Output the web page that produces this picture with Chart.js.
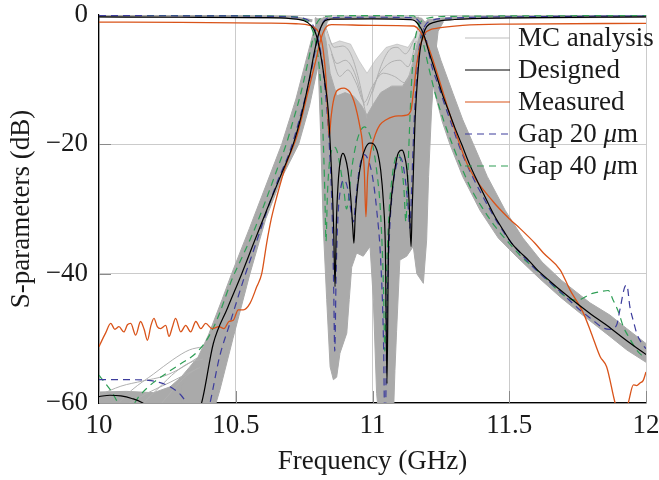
<!DOCTYPE html>
<html lang="en">
<head>
<meta charset="UTF-8">
<title>S-parameters</title>
<script src="https://cdn.jsdelivr.net/npm/chart.js@4.4.1/dist/chart.umd.min.js"></script>
<style>
  html, body { margin: 0; padding: 0; background: #ffffff; }
  #wrap { width: 659px; height: 480px; }
</style>
</head>
<body>
<div id="wrap"><canvas id="sparams" width="659" height="480"></canvas></div>
<script>
// values, [frequency (GHz), level (dB)]
const xTicks = [10, 10.5, 11, 11.5, 12];
const yTicks = [0, -20, -40, -60];
const seriesNames = ['MC analysis', 'Designed', 'Measured', 'Gap 20 μm', 'Gap 40 μm'];

const designedS11 = [[10.0,-0.3],[10.3,-0.35],[10.6,-0.4],[10.7,-0.55],[10.75,-0.9],[10.775,-1.6],[10.79,-2.6],[10.8,-4],[10.814,-7],[10.826,-10.5],[10.838,-14.7],[10.851,-25],[10.858,-33],[10.863,-42],[10.868,-32],[10.876,-25],[10.884,-22.2],[10.892,-21.4],[10.9,-22],[10.91,-24],[10.92,-28],[10.928,-33],[10.932,-35.3],[10.937,-31],[10.947,-26],[10.96,-22.5],[10.975,-20.5],[10.99,-19.8],[10.998,-19.8],[11.01,-20.3],[11.02,-21.5],[11.03,-24],[11.04,-29],[11.047,-36],[11.053,-57],[11.058,-37],[11.066,-30],[11.078,-25],[11.092,-21.6],[11.1,-21],[11.108,-20.9],[11.116,-21.6],[11.126,-24],[11.134,-29],[11.141,-35.8],[11.145,-30],[11.149,-25],[11.155,-17],[11.161,-12.1],[11.168,-8],[11.174,-5.4],[11.186,-3],[11.198,-1.8],[11.228,-1.1],[11.3,-0.7],[11.5,-0.45],[12.0,-0.3]];
const designedS21 = [[10.0,-59],[10.04,-58.8],[10.08,-58.9],[10.12,-59.3],[10.16,-60],[10.2,-61.5],[10.28,-64],[10.34,-63],[10.375,-60],[10.418,-50.8],[10.47,-45.3],[10.522,-40],[10.57,-34.8],[10.613,-30.2],[10.66,-25.3],[10.71,-20],[10.74,-15.5],[10.771,-9.5],[10.786,-6],[10.8,-3.4],[10.812,-1.8],[10.826,-0.9],[10.85,-0.65],[11.0,-0.6],[11.14,-0.7],[11.155,-0.9],[11.168,-1.5],[11.18,-2.3],[11.192,-3.6],[11.204,-5.4],[11.22,-7.5],[11.235,-9.5],[11.255,-12.2],[11.277,-14.7],[11.3,-17.3],[11.326,-20],[11.355,-23.1],[11.387,-26],[11.418,-28.7],[11.448,-31.2],[11.48,-33.4],[11.509,-35.3],[11.54,-36.7],[11.57,-37.9],[11.6,-39.3],[11.65,-41.2],[11.7,-43],[11.75,-44.7],[11.8,-46.3],[11.85,-47.8],[11.9,-49.4],[11.95,-51],[12.0,-52.5]];

const measuredS11 = [[10.0,-1.1],[10.3,-1.15],[10.6,-1.25],[10.72,-1.35],[10.77,-1.6],[10.795,-2.2],[10.81,-3.3],[10.82,-5.5],[10.83,-10],[10.836,-15],[10.842,-18.8],[10.848,-16],[10.856,-13.5],[10.866,-12],[10.877,-11.5],[10.896,-11.3],[10.91,-11.6],[10.92,-12.1],[10.932,-13.3],[10.944,-15.2],[10.955,-17.5],[10.962,-19.3],[10.97,-24],[10.976,-31.2],[10.982,-25],[10.99,-22],[10.997,-20.4],[11.01,-18.5],[11.027,-17],[11.05,-16.2],[11.076,-15.7],[11.1,-15.6],[11.125,-15.5],[11.135,-15.2],[11.142,-14.5],[11.149,-12.1],[11.155,-10],[11.16,-8],[11.167,-6.3],[11.174,-4.9],[11.183,-3.6],[11.192,-2.8],[11.21,-2.3],[11.228,-2.1],[11.33,-1.6],[11.5,-1.4],[12.0,-1.3]];
const measuredS21 = [[10.0,-51.3],[10.012,-50.2],[10.024,-49.2],[10.043,-47.7],[10.058,-48.6],[10.073,-48.2],[10.091,-49.0],[10.104,-47.9],[10.116,-47.7],[10.134,-49.5],[10.152,-47.4],[10.165,-48.6],[10.177,-50.3],[10.19,-48],[10.201,-46.9],[10.213,-48.2],[10.225,-48.5],[10.244,-48.0],[10.256,-49.7],[10.268,-48.3],[10.28,-46.9],[10.299,-49.0],[10.317,-48.0],[10.335,-49.0],[10.354,-47.4],[10.372,-48.5],[10.39,-47.7],[10.414,-48.5],[10.439,-48.2],[10.457,-48.5],[10.475,-47.4],[10.491,-47.2],[10.509,-45.6],[10.528,-45.6],[10.552,-44.6],[10.577,-42],[10.595,-40],[10.613,-35.3],[10.63,-31.5],[10.65,-28.1],[10.686,-22.9],[10.723,-18.8],[10.76,-12.6],[10.79,-7.5],[10.814,-3.35],[10.832,-1.8],[10.85,-1.5],[11.0,-1.6],[11.15,-1.7],[11.17,-2.3],[11.186,-3.4],[11.204,-4.9],[11.24,-9.5],[11.289,-16.2],[11.35,-23.4],[11.44,-28.8],[11.5,-31.5],[11.539,-33],[11.594,-35.3],[11.625,-36.8],[11.686,-39.4],[11.722,-42.5],[11.771,-46.1],[11.8,-49.2],[11.832,-52.8],[11.856,-54.4],[11.887,-60],[11.91,-63],[11.935,-60],[11.954,-57.2],[11.966,-57.3],[11.978,-56.9],[11.99,-56.5],[12.0,-55.2]];

const gap20S11 = [[10.0,-0.1],[10.5,-0.15],[10.7,-0.3],[10.76,-0.7],[10.785,-1.8],[10.8,-3.5],[10.815,-7],[10.83,-13],[10.842,-20],[10.852,-30],[10.858,-42],[10.862,-52],[10.867,-40],[10.874,-31],[10.885,-26.5],[10.897,-25.5],[10.91,-27],[10.922,-30.5],[10.93,-32],[10.94,-28],[10.953,-23.5],[10.97,-21.6],[10.985,-22.5],[11.0,-25],[11.015,-30],[11.03,-38],[11.04,-50],[11.046,-66],[11.052,-48],[11.062,-34],[11.075,-26.5],[11.09,-22.8],[11.1,-22],[11.11,-22.8],[11.12,-25.5],[11.13,-29.5],[11.137,-33],[11.142,-28],[11.148,-21],[11.155,-14],[11.165,-7.5],[11.175,-3.8],[11.19,-1.8],[11.22,-0.8],[11.3,-0.45],[11.6,-0.25],[12.0,-0.15]];
const gap20S21 = [[10.0,-56.4],[10.1,-56.4],[10.18,-56.5],[10.22,-56.8],[10.26,-57.5],[10.3,-58.8],[10.32,-60],[10.36,-63],[10.4,-61],[10.406,-60],[10.44,-53],[10.48,-47.5],[10.528,-41],[10.57,-35.8],[10.6,-32],[10.65,-26],[10.7,-20.8],[10.74,-15],[10.77,-10],[10.796,-4.4],[10.81,-2],[10.825,-0.8],[10.85,-0.4],[11.0,-0.35],[11.15,-0.4],[11.17,-1],[11.19,-2.5],[11.2,-4.5],[11.216,-7.8],[11.24,-10.8],[11.265,-14],[11.29,-17],[11.32,-20.6],[11.36,-24.5],[11.4,-27.8],[11.45,-31.6],[11.5,-34.8],[11.55,-37.3],[11.6,-39.5],[11.65,-41.4],[11.7,-43.3],[11.75,-45.3],[11.8,-47],[11.844,-48.4],[11.87,-48.6],[11.893,-47.9],[11.905,-45.5],[11.923,-42],[11.93,-41.8],[11.941,-45.1],[11.955,-47.5],[11.966,-49.2],[11.985,-50.8],[12.0,-51.6]];

const gap40S11 = [[10.0,-0.05],[10.5,-0.1],[10.7,-0.25],[10.75,-0.7],[10.775,-1.8],[10.79,-3.8],[10.805,-8],[10.815,-14],[10.822,-22],[10.826,-28],[10.83,-35],[10.835,-28],[10.842,-23],[10.85,-21],[10.86,-20.4],[10.87,-21],[10.88,-23],[10.895,-27],[10.905,-30],[10.912,-28.5],[10.925,-23.5],[10.94,-20],[10.955,-18],[10.97,-17.3],[10.985,-18],[11.0,-20],[11.015,-24],[11.03,-31],[11.04,-42],[11.045,-52],[11.05,-42],[11.06,-31],[11.072,-25],[11.085,-22],[11.095,-21.5],[11.105,-23],[11.115,-27],[11.122,-32],[11.128,-26],[11.135,-18],[11.142,-11],[11.15,-6],[11.16,-2.8],[11.175,-1.2],[11.2,-0.5],[11.3,-0.2],[12.0,-0.1]];
const gap40S21 = [[10.0,-55.7],[10.02,-56.8],[10.05,-58.5],[10.07,-60],[10.1,-61.5],[10.13,-60],[10.146,-59],[10.2,-56.8],[10.25,-55.3],[10.293,-54.1],[10.354,-52.3],[10.39,-50.5],[10.42,-48.2],[10.442,-46],[10.485,-41],[10.528,-37],[10.57,-33],[10.613,-28.3],[10.65,-24],[10.686,-19.8],[10.71,-16.3],[10.735,-12.6],[10.755,-9],[10.771,-5.9],[10.782,-3.6],[10.79,-2],[10.8,-1],[10.82,-0.3],[10.85,-0.15],[11.0,-0.1],[11.15,-0.15],[11.165,-1],[11.175,-2.4],[11.186,-4.4],[11.205,-8],[11.229,-12.1],[11.26,-16.3],[11.29,-19.8],[11.325,-23.5],[11.362,-27],[11.4,-29.7],[11.448,-32.7],[11.5,-35.3],[11.545,-37.4],[11.594,-39.2],[11.64,-41],[11.686,-42.9],[11.72,-43.9],[11.747,-44.1],[11.76,-44],[11.79,-43.3],[11.808,-43],[11.832,-42.8],[11.862,-42.6],[11.88,-44.1],[11.9,-46],[11.917,-48.2],[11.94,-50],[11.966,-51.8],[11.984,-52.6],[12.0,-53]];

// Monte Carlo cloud: envelopes of the dense grey areas and a few visible single runs
const mcLeftUpper = [[10.3,-57.5],[10.35,-54],[10.4,-49.5],[10.45,-44],[10.485,-40],[10.55,-33],[10.6,-27.5],[10.668,-20],[10.72,-13],[10.76,-6.5],[10.785,-2.5],[10.8,-0.6],[10.85,-0.3]];
const mcLeftLower = [[10.3,-70],[10.4,-64],[10.442,-58],[10.49,-50],[10.552,-40],[10.61,-31.5],[10.67,-25],[10.73,-20],[10.77,-14],[10.8,-8],[10.82,-3.5],[10.835,-1],[10.85,-0.6]];
const mcRightUpper = [[11.16,-0.4],[11.18,-0.5],[11.2,-1.5],[11.22,-3],[11.25,-7],[11.294,-12.1],[11.33,-16.2],[11.369,-20],[11.42,-25],[11.485,-30.2],[11.55,-34.5],[11.62,-38.2],[11.69,-41],[11.795,-44.5],[11.868,-46.4],[11.93,-48.5],[12.0,-50.8]];
const mcRightLower = [[11.16,-0.8],[11.18,-3],[11.2,-6],[11.228,-12.1],[11.255,-16.5],[11.283,-20],[11.33,-25],[11.393,-30.2],[11.46,-34.5],[11.53,-37.5],[11.612,-40.8],[11.686,-43.6],[11.75,-45.8],[11.868,-49.7],[11.93,-51.8],[12.0,-53.7]];
const mcPassUpper = [[10.79,-0.4],[10.8,-0.6],[10.815,-1.5],[10.83,-4],[10.845,-9],[10.87,-12.5],[10.9,-12],[10.93,-12.5],[10.96,-14],[10.98,-15.5],[11.0,-14],[11.03,-12],[11.07,-11],[11.11,-11],[11.14,-9],[11.16,-5],[11.18,-2],[11.2,-0.8],[11.26,-0.5]];
const mcPassLower = [[10.79,-0.5],[10.8,-6],[10.81,-18],[10.82,-32.8],[10.8325,-44],[10.845,-54.4],[10.857,-56.4],[10.869,-56],[10.881,-52.3],[10.906,-49.2],[10.915,-44],[10.924,-39],[10.942,-36.8],[10.966,-37.3],[10.991,-35.8],[11.003,-44],[11.015,-58.5],[11.027,-64],[11.075,-64],[11.082,-55],[11.088,-49],[11.1,-37.9],[11.125,-37.3],[11.149,-35.8],[11.162,-40],[11.186,-41.5],[11.198,-34.8],[11.205,-25],[11.216,-14.7],[11.228,-7],[11.24,-2.5],[11.26,-1]];
const mcArcTop = [[10.79,-0.4],[10.82,-1.5],[10.85,-4.5],[10.88,-4],[10.92,-4.5],[10.95,-7],[10.98,-9],[11.01,-7],[11.05,-5],[11.09,-4.5],[11.13,-5],[11.16,-3],[11.19,-1],[11.26,-0.5]];
const mcFanUpper = [[10.0,-58.3],[10.1,-58.2],[10.2,-58.4],[10.26,-57.5],[10.3,-56],[10.33,-54.5],[10.36,-53]];
const mcFanLower = [[10.0,-62],[10.36,-62]];
const mcRuns = [
  [[10.06,-60.5],[10.12,-58],[10.2,-55.5],[10.27,-53.3],[10.33,-51.8],[10.38,-51.3]],
  [[10.0,-58.8],[10.08,-57.4],[10.16,-56.6],[10.24,-55.8],[10.3,-54.6],[10.36,-53]],
  [[10.15,-60.5],[10.22,-57.6],[10.28,-55.2],[10.33,-53.8],[10.38,-53.2]],
  [[10.1,-60.3],[10.18,-58.4],[10.26,-56.8],[10.32,-55.5],[10.37,-54.5]],
  [[10.22,-60.5],[10.27,-58],[10.32,-55.8],[10.36,-54.6]],
  [[10.83,-2],[10.86,-5],[10.89,-4.8],[10.92,-6],[10.95,-10],[10.97,-14]],
  [[10.84,-4.5],[10.87,-7.5],[10.9,-7],[10.93,-8.5],[10.96,-12.5],[10.98,-16]],
  [[11.0,-12],[11.03,-8],[11.06,-5.5],[11.09,-5],[11.12,-6],[11.15,-4],[11.17,-1.5]],
  [[10.98,-14],[11.02,-9.5],[11.06,-7.5],[11.1,-7],[11.13,-8],[11.16,-4]],
  [[10.85,-6],[10.88,-9.5],[10.91,-8.5],[10.94,-10.5],[10.97,-13.5],[11.0,-11],[11.04,-9],[11.08,-9.5],[11.12,-10.5],[11.15,-7]]
];
const mcTopLines = [
  [[10.0,-0.15],[10.4,-0.2],[10.6,-0.3],[10.72,-0.45],[10.78,-0.9]],
  [[10.82,-0.5],[11.0,-0.4],[11.17,-0.5]],
  [[11.2,-0.9],[11.3,-0.5],[11.6,-0.3],[12.0,-0.2]]
];

const SERIF = "'Liberation Serif', 'Times New Roman', serif";
const GREY = '#aaaaaa';
const colors = { mc: '#bdbdbd', designed: '#000000', measured: '#d95319', gap20: '#3c3c9c', gap40: '#2e9e55' };

const pts = a => a.map(([x, y]) => ({ x, y }));

function curve(data, color, width, dash) {
  return {
    data: pts(data), borderColor: color, borderWidth: width, borderDash: dash || [],
    pointRadius: 0, fill: false, cubicInterpolationMode: 'monotone'
  };
}
function edge(data, color, fillTo) {
  return {
    data: pts(data), borderColor: color, backgroundColor: color, borderWidth: 1,
    pointRadius: 0, fill: fillTo, tension: 0
  };
}

const dash = [7, 5];
const datasets = [
  curve(designedS21, colors.designed, 1.2),
  curve(designedS11, colors.designed, 1.2),
  curve(measuredS21, colors.measured, 1.3),
  curve(measuredS11, colors.measured, 1.3),
  curve(gap20S21, colors.gap20, 1.2, dash),
  curve(gap20S11, colors.gap20, 1.2, dash),
  curve(gap40S21, colors.gap40, 1.2, dash),
  curve(gap40S11, colors.gap40, 1.2, dash),
  ...mcRuns.map(r => curve(r, '#b0b0b0', 1)),
  ...mcTopLines.map(r => curve(r, GREY, 3)),
  edge(mcPassUpper, GREY, '+1'), edge(mcPassLower, GREY, false),
  edge(mcLeftUpper, GREY, '+1'), edge(mcLeftLower, GREY, false),
  edge(mcRightUpper, GREY, '+1'), edge(mcRightLower, GREY, false),
  edge(mcFanUpper, GREY, '+1'), edge(mcFanLower, GREY, false),
  edge(mcArcTop, 'rgba(170,170,170,0.45)', '+1'), edge(mcPassUpper, 'rgba(0,0,0,0)', false)
];

const legendStyles = [
  { color: colors.mc, width: 1, dash: [] },
  { color: colors.designed, width: 1, dash: [] },
  { color: colors.measured, width: 1.2, dash: [] },
  { color: colors.gap20, width: 1.2, dash: dash },
  { color: colors.gap40, width: 1.2, dash: dash }
];

// small tick marks pointing into the plot, as pgfplots draws them
const innerTicks = {
  id: 'innerTicks',
  afterDatasetsDraw(chart) {
    const { ctx, chartArea: a, scales: { x, y } } = chart;
    const len = 12;
    ctx.save();
    ctx.strokeStyle = '#8a8a8a';
    ctx.lineWidth = 1;
    ctx.beginPath();
    yTicks.slice(1, -1).forEach(v => {
      const py = Math.round(y.getPixelForValue(v)) + 0.5;
      ctx.moveTo(a.left, py); ctx.lineTo(a.left + len, py);
    });
    xTicks.slice(1).forEach(v => {
      const px = Math.round(x.getPixelForValue(v)) + 0.5;
      ctx.moveTo(px, a.bottom); ctx.lineTo(px, a.bottom - len);
    });
    ctx.stroke();
    ctx.restore();
  }
};

// legend sits inside the plot, upper right, without a box
const insideLegend = {
  id: 'insideLegend',
  afterDatasetsDraw(chart) {
    const ctx = chart.ctx;
    const x0 = 465, x1 = 510, tx = 518, base0 = 46, step = 32;
    seriesNames.forEach((name, i) => {
      const st = legendStyles[i];
      const yb = base0 + i * step, yl = yb - 8;
      ctx.save();
      ctx.strokeStyle = st.color;
      ctx.lineWidth = st.width;
      ctx.setLineDash(st.dash);
      ctx.beginPath();
      ctx.moveTo(x0, yl);
      ctx.lineTo(x1, yl);
      ctx.stroke();
      ctx.setLineDash([]);
      ctx.fillStyle = '#1a1a1a';
      ctx.textAlign = 'left';
      ctx.textBaseline = 'alphabetic';
      let x = tx;
      name.split(/(μ)/).forEach(p => {
        if (!p) return;
        ctx.font = (p === 'μ' ? 'italic ' : '') + '27px ' + SERIF;
        ctx.fillText(p, x, yb);
        x += ctx.measureText(p).width;
      });
      ctx.restore();
    });
  }
};

const fmt = v => (v < 0 ? '\u2212' + Math.abs(v) : String(v));

new Chart(document.getElementById('sparams'), {
  type: 'line',
  data: { datasets },
  options: {
    responsive: false,
    animation: false,
    devicePixelRatio: 1,
    layout: { padding: { top: 15, right: 13, left: 0, bottom: 0 } },
    plugins: { legend: { display: false }, tooltip: { enabled: false } },
    scales: {
      x: {
        type: 'linear', min: 10, max: 12,
        afterBuildTicks: s => { s.ticks = xTicks.map(v => ({ value: v })); },
        afterFit: s => { s.height = 77; s.paddingLeft = 0; s.paddingRight = 0; },
        ticks: { autoSkip: false, maxRotation: 0, padding: 7, color: '#1a1a1a',
          font: { family: SERIF, size: 27 }, callback: v => fmt(v) },
        grid: { color: '#cbcbcb', lineWidth: 1, drawTicks: false },
        border: { color: '#000', width: 1.2 },
        title: { display: true, text: 'Frequency (GHz)', color: '#1a1a1a',
          font: { family: SERIF, size: 27, lineHeight: 1.2 }, padding: { top: 0, bottom: 2 } }
      },
      y: {
        type: 'linear', min: -60, max: 0,
        afterBuildTicks: s => { s.ticks = yTicks.map(v => ({ value: v })); },
        afterFit: s => { s.width = 99; s.paddingTop = 0; s.paddingBottom = 0; },
        ticks: { padding: 11, color: '#1a1a1a', font: { family: SERIF, size: 27 }, callback: v => fmt(v) },
        grid: { color: '#cbcbcb', lineWidth: 1, drawTicks: false },
        border: { color: '#000', width: 1.2 },
        title: { display: true, text: 'S-parameters (dB)', color: '#1a1a1a',
          font: { family: SERIF, size: 27, lineHeight: 1.2 }, padding: { top: 6, bottom: 0 } }
      }
    }
  },
  plugins: [innerTicks, insideLegend]
});
</script>
</body>
</html>
